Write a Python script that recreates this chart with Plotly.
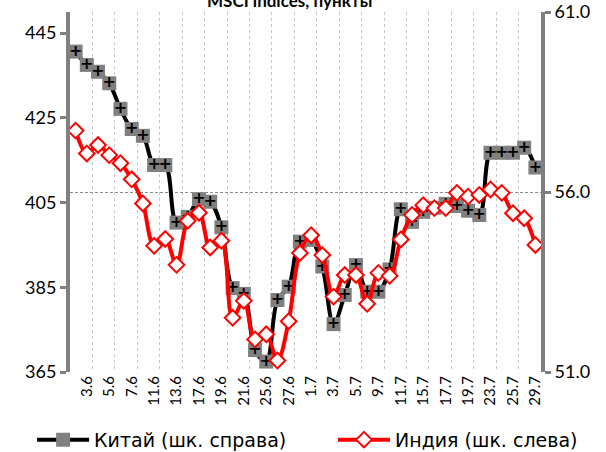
import plotly.graph_objects as go

dates = ['31.5', '3.6', '4.6', '5.6', '6.6', '7.6', '10.6', '11.6', '12.6', '13.6',
         '14.6', '17.6', '18.6', '19.6', '20.6', '21.6', '24.6', '25.6', '26.6', '27.6',
         '28.6', '1.7', '2.7', '3.7', '4.7', '5.7', '8.7', '9.7', '10.7', '11.7',
         '12.7', '15.7', '16.7', '17.7', '18.7', '19.7', '22.7', '23.7', '24.7', '25.7',
         '26.7', '29.7']

china = [59.90, 59.53, 59.34, 59.02, 58.31, 57.75, 57.56, 56.75, 56.75, 55.15,
         55.31, 55.80, 55.73, 55.02, 53.33, 53.17, 51.61, 51.29, 53.00, 53.37,
         54.62, 54.67, 53.93, 52.33, 53.14, 53.97, 53.23, 53.23, 53.85, 55.52,
         55.17, 55.45, 55.56, 55.67, 55.61, 55.48, 55.36, 57.09, 57.09, 57.09,
         57.23, 56.68]

india = [422.0, 416.6, 418.6, 416.2, 414.3, 410.5, 404.8, 394.8, 396.4, 390.3,
         400.7, 402.6, 394.4, 396.0, 377.8, 381.8, 372.7, 373.9, 367.7, 377.0,
         393.1, 397.3, 392.6, 382.8, 387.9, 387.9, 381.1, 388.4, 387.7, 396.3,
         402.1, 404.4, 403.7, 403.7, 407.3, 406.4, 406.8, 408.1, 407.3, 402.5,
         401.3, 395.0]

left_ticks = [365, 385, 405, 425, 445]
right_ticks = [51, 56, 61]

title_text = 'MSCI indices, пункты'
china_name = 'Китай (шк. справа)'
india_name = 'Индия (шк. слева)'

idx = list(range(len(dates)))
label_idx = idx[1::2]
label_txt = dates[1::2]

FONT = 'Lato'
GRAY = '#808080'

fig = go.Figure()
fig.add_trace(go.Scatter(
    x=idx, y=china, name=china_name, yaxis='y', legend='legend',
    mode='lines+markers+text', text=['+'] * len(china), textposition='middle center',
    textfont=dict(family='DejaVu Sans', size=16, color='black', weight='bold'),
    line=dict(color='black', width=4, shape='spline'),
    marker=dict(symbol='square', size=14, color=GRAY, line=dict(width=0)),
    cliponaxis=False,
))
fig.add_trace(go.Scatter(
    x=idx, y=india, name=india_name, yaxis='y2', legend='legend2',
    mode='lines+markers',
    line=dict(color='#ff0000', width=4, shape='spline'),
    marker=dict(symbol='diamond', size=12, color='white', line=dict(color='#ff0000', width=2)),
    cliponaxis=False,
))

fig.add_annotation(text='<b>' + title_text + '</b>', xref='paper', yref='paper',
                   x=0.467, y=1.0306, xanchor='center', yanchor='middle',
                   showarrow=False, font=dict(size=17, family=FONT, color='black'))

legend_common = dict(orientation='h', xref='container', yref='container', y=0.027,
                     xanchor='left', yanchor='middle',
                     font=dict(size=19, family='DejaVu Sans', color='black'),
                     bgcolor='rgba(0,0,0,0)', itemwidth=52)

fig.update_layout(
    width=606, height=452,
    margin=dict(l=70, r=65, t=12, b=80, autoexpand=False),
    paper_bgcolor='white', plot_bgcolor='white',
    font=dict(family=FONT, color='black'),
    xaxis=dict(range=[-0.5, len(dates) - 0.5], tickmode='array', tickvals=label_idx,
               ticktext=label_txt, tickangle=-90, tickfont=dict(size=15),
               showgrid=False, zeroline=False, showline=False, ticks='',
               automargin=False,
               minor=dict(tick0=1.5, dtick=2, showgrid=True, gridcolor='#c8c8c8',
                          griddash='3px,3px', gridwidth=1.3, ticks='')),
    yaxis=dict(range=[51, 61], side='right', tickmode='array', tickvals=right_ticks,
               tickformat='.1f', tickfont=dict(size=18), showline=True, linewidth=4,
               linecolor=GRAY, ticks='outside', ticklen=6, tickwidth=3, tickcolor=GRAY,
               showgrid=True, gridcolor='#8c8c8c', griddash='3px,2px', gridwidth=1,
               zeroline=False, automargin=False, ticklabeloverflow='allow'),
    yaxis2=dict(range=[365, 450], side='left', overlaying='y', tickmode='array',
                tickvals=left_ticks, tickfont=dict(size=18), showline=True, linewidth=4,
                linecolor=GRAY, ticks='outside', ticklen=6, tickwidth=3, tickcolor=GRAY,
                showgrid=False, zeroline=False, automargin=False, ticklabeloverflow='allow'),
    legend=dict(x=0.053, **legend_common),
    legend2=dict(x=0.5495, **legend_common),
    showlegend=True,
)

fig.write_html('out.html', config={'displayModeBar': False},
               post_script="document.body.style.margin='0px';")
